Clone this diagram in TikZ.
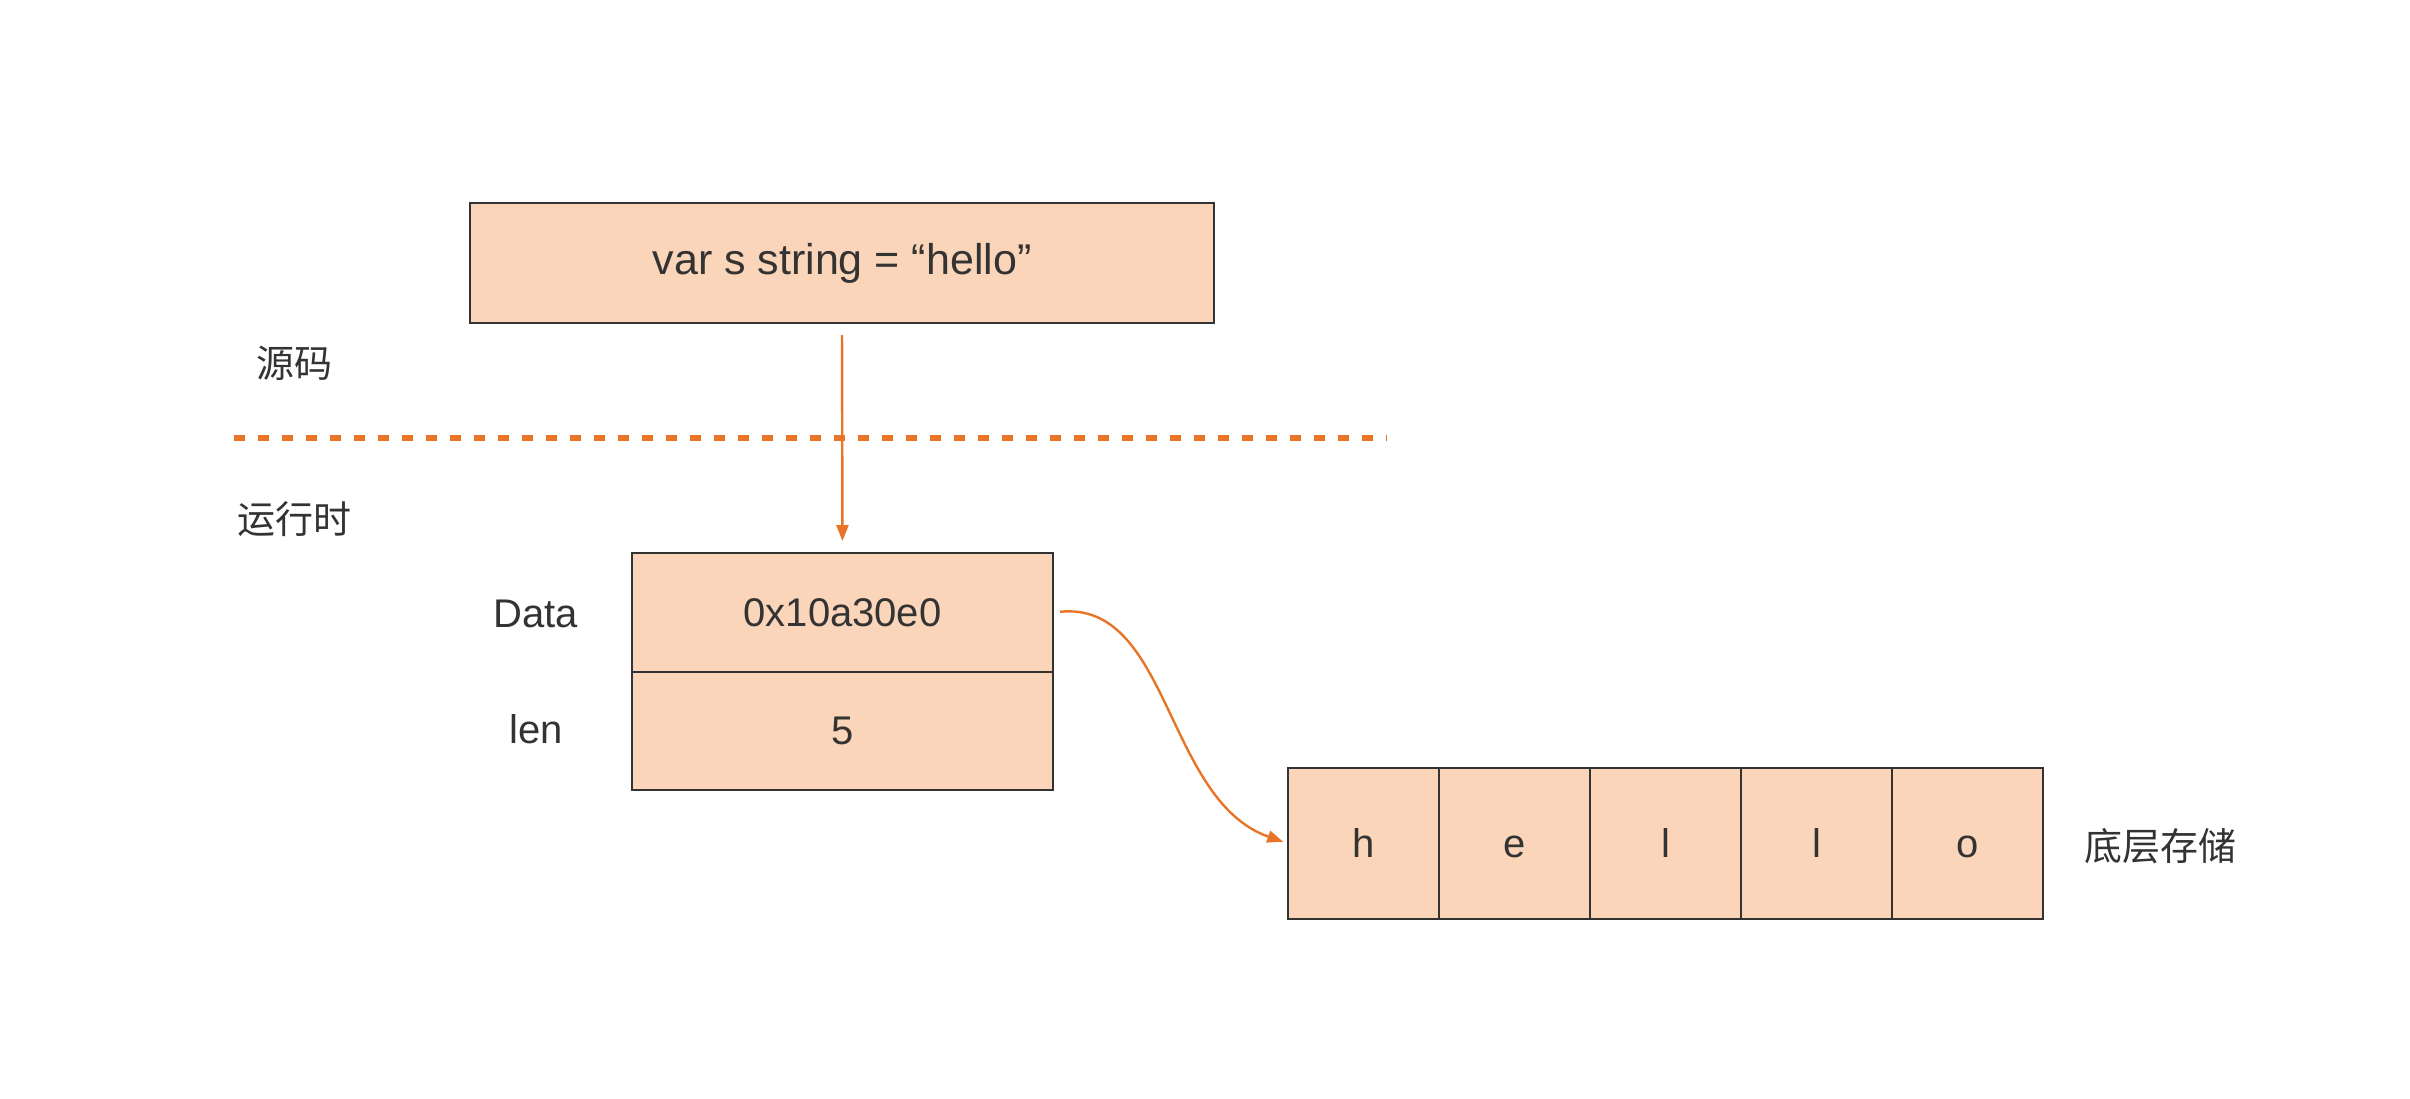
\documentclass[tikz,border=0pt]{standalone}
\usepackage{fontspec}
\setmainfont{Liberation Sans}
\newfontfamily\cjk{Noto Sans CJK SC}
\usetikzlibrary{arrows.meta}
\definecolor{peach}{RGB}{250,213,185}
\definecolor{accent}{RGB}{232,117,38}
\definecolor{ink}{RGB}{51,51,51}

\begin{document}
\begin{tikzpicture}[x=0.5pt,y=-0.5pt,
  cell/.style={draw=ink, line width=1pt, fill=peach, text=ink,
    font=\fontsize{20}{24}\selectfont, inner sep=0pt, outer sep=0pt,
    anchor=center},
  charcell/.style={cell, minimum width=75.5pt, minimum height=75.5pt,
    text height=14.4pt, text depth=0pt},
  fieldlabel/.style={text=ink, font=\fontsize{20}{24}\selectfont},
  cnlabel/.style={text=ink, font=\cjk\fontsize{19}{23}\selectfont},
  link/.style={draw=accent, line width=1.2pt,
    -{Triangle[length=8pt,width=6pt]}},
  divider/.style={draw=accent, line width=3pt, dash pattern=on 5.5pt off 6.5pt}
]
\useasboundingbox (0,0) rectangle (2410,1098);

% source line
\node[cell, minimum width=372pt, minimum height=60pt,
  font=\fontsize{21.5}{26}\selectfont] (src) at (842,263)
  {var s string = “hello”};

% section labels and divider
\node[cnlabel] (srclab) at (294,363) {源码};
\node[cnlabel] (rtlab) at (294,519) {运行时};
\coordinate (divL) at (234,438);
\coordinate (divR) at (1387,438);
\draw[divider] (divL) -- (divR);

% string header: Data pointer and length
\node[cell, minimum width=210.5pt, minimum height=59.5pt] (data) at (842.5,612.5)
  {0x10a30e0};
\node[cell, minimum width=210.5pt, minimum height=59pt, anchor=north] (len)
  at (data.south) {5};
\node[fieldlabel] (datalab) at (536,614) {Data};
\node[fieldlabel] (lenlab) at (536,729) {len};

% backing byte array
\node[charcell] (c1) at (1363.5,843.5) {h};
\node[charcell, anchor=west] (c2) at (c1.east) {e};
\node[charcell, anchor=west] (c3) at (c2.east) {l};
\node[charcell, anchor=west] (c4) at (c3.east) {l};
\node[charcell, anchor=west] (c5) at (c4.east) {o};
\node[cnlabel] (storelab) at (2160,846) {底层存储};

% connectors
\draw[link, shorten <=6pt, shorten >=6pt] (src.south) -- (data.north);
\draw[link, shorten <=3.5pt, shorten >=2.5pt] (data.east)
  .. controls ([xshift=58.5pt,yshift=6pt]data.east)
  and ([xshift=-61.5pt,yshift=21.5pt]c1.west) .. (c1.west);
\end{tikzpicture}
\end{document}
